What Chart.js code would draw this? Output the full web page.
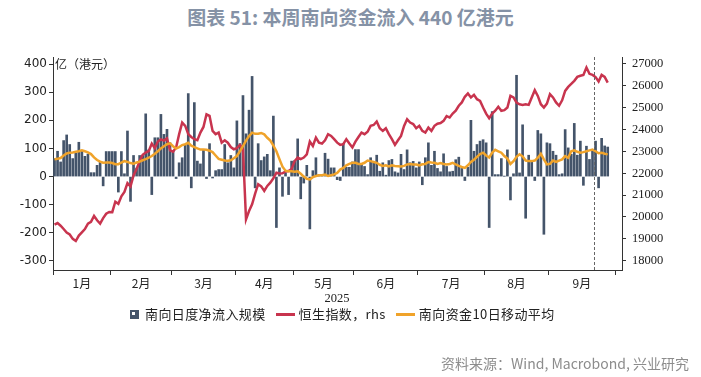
<!DOCTYPE html>
<html>
<head>
<meta charset="utf-8">
<script src="https://cdn.jsdelivr.net/npm/chart.js@4.4.1/dist/chart.umd.min.js"></script>
<style>
  html, body { margin:0; padding:0; background:#fff; }
  #wrap { position:relative; width:701px; height:377px; overflow:hidden; font-family:"Noto Sans CJK SC","Noto Sans",sans-serif; }
  #c { position:absolute; left:0; top:0; }
  #title { position:absolute; left:0; top:3px; width:701px; text-align:center; font-size:19px; font-weight:bold; color:#8592a6; line-height:28px; }
  #unit { position:absolute; left:55px; top:56px; font-size:12px; color:#222; line-height:16px; }
  #year { position:absolute; left:317px; top:290px; width:40px; text-align:center; font-family:"Liberation Serif",serif; font-size:12.5px; color:#222; line-height:16px; }
  #legend { position:absolute; left:130px; top:305px; display:flex; align-items:center; font-size:13px; letter-spacing:0.4px; color:#222; line-height:18px; white-space:nowrap; }
  #legend .box { width:5px; height:5px; border:2px solid #44546a; background:#fff; margin-right:6px; box-shadow:inset -2px -2px 0 #44546a; }
  #legend .ln { width:19px; height:3px; margin:0 4px 0 10px; }
  #source { position:absolute; right:12px; top:353px; font-size:14px; color:#8c8c8c; line-height:20px; }
</style>
</head>
<body>
<div id="wrap">
  <div id="title">图表 51: 本周南向资金流入 440 亿港元</div>
  <canvas id="c" width="701" height="377"></canvas>
  <div id="unit">亿（港元）</div>
  <div id="year">2025</div>
  <div id="legend">
    <span class="box"></span><span>南向日度净流入规模</span>
    <span class="ln" style="background:#c8344e"></span><span>恒生指数，rhs</span>
    <span class="ln" style="background:#f0a32a"></span><span>南向资金10日移动平均</span>
  </div>
  <div id="source">资料来源：Wind, Macrobond, 兴业研究</div>
</div>
<script>
const months    = ['1月','2月','3月','4月','5月','6月','7月','8月','9月'];
const monthDays = [19, 20, 21, 19, 20, 21, 22, 21, 22];   // trading days per month
const weekStart = 178;                                     // first day of this week (dashed line)

// daily southbound net inflow, 亿港元
const flows = [
  64, 90, 52, 128, 148, 114, 64, 83, 122, 90, 72, 80, 14, 14, 40, 52, -33, 89, 89,
  89, 89, -55, 89, 10, 162, -88, 75, 30, 75, 75, 223, 95, -64, 138, 138, 221, 150, 168, 120,
  90, -7, 49, 67, 114, 295, -40, 263, 55, 45, 96, -7, 117, -5, 21, 25, 25, 114, 49, 75, 31,
  198, 117, 288, 152, 236, 356, -40, 117, 57, 70, 79, 21, 215, -181, 31, -70, 13, -64, 55,
  57, 134, -79, -23, 40, -186, 21, 67, 7, 5, 83, 62, 31, 31, -11, -14, 117, 33, 33, 52,
  96, 96, 43, 36, 7, 67, 54, 76, 19, 49, 5, 57, 61, 17, 13, 79, 25, 95, 49, 54, 31,
  52, -29, 67, 120, 40, 90, 29, 17, 81, 36, 17, 19, 60, 69, 29, -14, 33, 200, 90, 114, 126, 131,
  120, -181, 231, 7, 7, 64, 1, 95, -83, 10, 360, 13, 184, -148, 76, 52, -14, 164, 152, -205, 120,
  117, 90, 76, 7, 10, 167, 102, 79, 189, 76, 126, -31, 108, 61, 90, 126, -40, 136, 109, 105
];

// Hang Seng index, rhs
const hsi = [
  19650, 19720, 19600, 19450, 19290, 19200, 19000, 18900, 19150, 19300, 19450, 19700, 19780, 20050, 19850, 19700, 19950, 20150, 20230,
  20220, 20700, 20600, 20950, 21150, 21550, 21400, 21900, 22200, 22550, 22850, 22950, 23020, 23360, 23150, 23450, 23550, 23500, 23600, 23050,
  22990, 23180, 23790, 24320, 24170, 23790, 23660, 23560, 23510, 23860, 24120, 24700, 24630, 23940, 23790, 23860, 23400, 23510, 23400, 23200, 23100,
  23150, 23300, 23100, 19890, 20270, 20580, 21070, 21500, 21400, 21190, 21420, 21570, 21770, 22030, 21990, 22000, 22080, 22100, 22200,
  22560, 22720, 22650, 22720, 22870, 23450, 23250, 23630, 23400, 23360, 23510, 23790, 23710, 23560, 23400, 23300, 23330, 23560, 23360, 23180,
  23450, 23660, 23860, 23790, 23900, 24170, 24210, 24370, 24060, 23940, 24060, 23790, 23560, 23300, 23510, 23710, 24170, 24470, 24320, 24250, 24060,
  24170, 23940, 23860, 24090, 23940, 24170, 24270, 24300, 24400, 24620, 24550, 24730, 24860, 25090, 25240, 25500, 25650, 25470, 25590, 25390, 25310, 25010,
  24730, 24520, 24730, 24860, 25040, 24860, 24890, 25010, 25540, 25470, 25240, 25160, 25130, 25160, 25130, 25470, 25800, 25540, 25160, 25010, 25190,
  25620, 25470, 25240, 25090, 25340, 25770, 25950, 26090, 26230, 26410, 26460, 26500, 26840, 26550, 26500, 26400, 26200, 26500, 26410, 26150
];

// 10-day moving average of southbound flow
const ma10 = [
  62, 63, 66, 75, 82, 85, 86, 88, 90, 93, 90, 86, 80, 68, 59, 53, 49, 50, 50,
  48, 44, 44, 50, 55, 52, 48, 46, 50, 53, 58, 62, 67, 73, 81, 90, 100, 108, 115, 118,
  108, 100, 105, 112, 115, 120, 110, 105, 100, 96, 96, 95, 92, 87, 75, 63, 60, 57, 56, 58, 65,
  73, 90, 108, 128, 144, 156, 152, 152, 155, 150, 138, 128, 110, 90, 62, 35, 21, 19, 19,
  17, 19, 10, 0, -8, -10, -2, 2, 5, 5, 7, 2, 5, 8, 13, 25, 31, 40, 45, 49,
  49, 45, 45, 49, 57, 55, 52, 49, 42, 38, 40, 36, 40, 38, 37, 36, 38, 43, 45, 43, 43,
  40, 44, 45, 52, 50, 49, 45, 48, 45, 43, 45, 49, 43, 38, 34, 31, 40, 52, 60, 70, 80, 85,
  75, 68, 85, 95, 90, 85, 73, 64, 45, 55, 70, 79, 72, 57, 55, 55, 57, 67, 81, 61, 43,
  45, 57, 52, 57, 61, 73, 67, 90, 93, 88, 85, 87, 90, 93, 96, 90, 83, 85, 81, 79
];

const leftTicks  = [-300, -200, -100, 0, 100, 200, 300, 400];
const rightTicks = [18000, 19000, 20000, 21000, 22000, 23000, 24000, 25000, 26000, 27000];

// month boundaries (in trading days) and label positions
const bounds = [0];
monthDays.forEach(d => bounds.push(bounds[bounds.length-1] + d));
const mids = months.map((m,i) => (bounds[i] + bounds[i+1]) / 2);

const pts = arr => arr.map((v,i) => ({x:i+0.5, y:v}));

const weekLine = {
  id:'weekLine',
  afterDatasetsDraw(chart) {
    const {ctx, chartArea:{top,bottom}, scales:{x}} = chart;
    const px = Math.round(x.getPixelForValue(weekStart)) + 0.5;
    ctx.save();
    ctx.setLineDash([3,2]);
    ctx.strokeStyle = '#666';
    ctx.lineWidth = 1;
    ctx.beginPath(); ctx.moveTo(px, top); ctx.lineTo(px, bottom); ctx.stroke();
    ctx.restore();
  }
};

new Chart(document.getElementById('c'), {
  type:'bar',
  data:{
    datasets:[
      { type:'line', label:'南向资金10日移动平均', data:pts(ma10), yAxisID:'y',
        borderColor:'#f0a32a', borderWidth:2.5, pointRadius:0, tension:0, order:1 },
      { type:'line', label:'恒生指数，rhs', data:pts(hsi), yAxisID:'y2',
        borderColor:'#c8344e', borderWidth:2.5, pointRadius:0, tension:0, order:2 },
      { type:'bar', label:'南向日度净流入规模', data:pts(flows), yAxisID:'y',
        backgroundColor:'#44546a', barThickness:2, order:3 }
    ]
  },
  options:{
    responsive:false, animation:false, devicePixelRatio:1,
    layout:{ padding:{ top:57, left:0, right:0, bottom:0 } },
    plugins:{ legend:{display:false}, tooltip:{enabled:false} },
    scales:{
      x:{
        type:'linear', min:0, max:187.2, offset:false,
        grid:{ offset:false, drawOnChartArea:false, tickLength:5,
               tickColor: c => bounds.includes(c.tick?.value) ? '#333' : 'rgba(0,0,0,0)' },
        border:{ color:'#333', width:1 },
        afterBuildTicks: s => { s.ticks = bounds.concat(mids).sort((a,b)=>a-b).map(v=>({value:v})); },
        ticks:{ autoSkip:false, maxRotation:0, padding:1, color:'#222',
                font:{ family:'"Noto Sans CJK SC"', size:12 },
                callback: v => { const k = mids.indexOf(v); return k >= 0 ? months[k] : ''; } },
        afterFit: s => { s.height = 107; }
      },
      y:{
        position:'left', min:-332, max:425,
        grid:{ drawOnChartArea:false, tickLength:4, tickColor:'#333' },
        border:{ color:'#333', width:1 },
        afterBuildTicks: s => { s.ticks = leftTicks.map(v=>({value:v})); },
        ticks:{ padding:2, color:'#222', font:{ family:'"DejaVu Sans"', size:12 },
                callback: v => String(v) },
        afterFit: s => { s.width = 53; }
      },
      y2:{
        position:'right', min:17575, max:27320,
        grid:{ drawOnChartArea:false, tickLength:4, tickColor:'#333' },
        border:{ color:'#333', width:1 },
        afterBuildTicks: s => { s.ticks = rightTicks.map(v=>({value:v})); },
        ticks:{ padding:6, color:'#222', font:{ family:'"Liberation Serif"', size:12.5 },
                callback: v => String(v) },
        afterFit: s => { s.width = 79; }
      }
    }
  },
  plugins:[weekLine]
});
</script>
</body>
</html>
